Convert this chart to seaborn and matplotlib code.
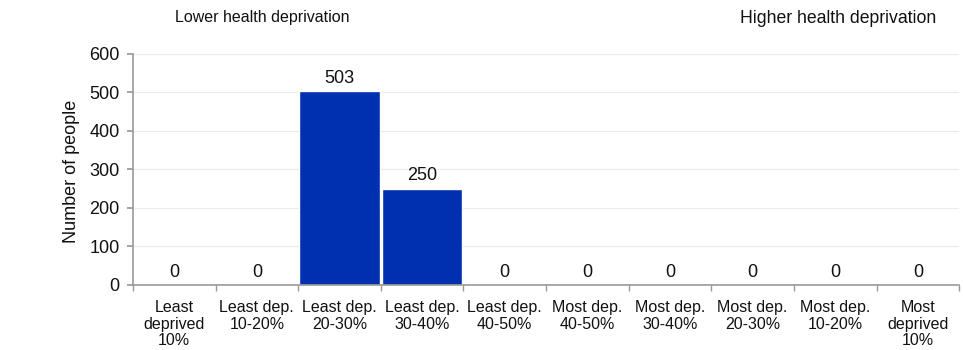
import matplotlib
matplotlib.use("Agg")
import numpy as np
import pandas as pd
import matplotlib.pyplot as plt
import seaborn as sns

categories = ["Least\ndeprived\n10%", "Least dep.\n10-20%", "Least dep.\n20-30%",
              "Least dep.\n30-40%", "Least dep.\n40-50%", "Most dep.\n40-50%",
              "Most dep.\n30-40%", "Most dep.\n20-30%", "Most dep.\n10-20%",
              "Most\ndeprived\n10%"]
people = [0, 0, 503, 250, 0, 0, 0, 0, 0, 0]
y_ticks = [0, 100, 200, 300, 400, 500, 600]

sns.set_theme(style="white")
plt.rcParams["font.family"] = ["Liberation Sans", "DejaVu Sans"]

df = pd.DataFrame({"category": categories, "people": people})

fig = plt.figure(figsize=(9.63, 3.5), dpi=100)
ax = fig.add_axes([0.138, 0.186, 0.858, 0.66])

sns.barplot(data=df, x="category", y="people", color="#0030b0", saturation=1,
            width=0.97, ax=ax)

for i, v in enumerate(people):
    ax.annotate(str(v), (i, v), xytext=(0, 3), textcoords="offset points",
                ha="center", va="bottom", fontsize=13, color="#111111")

ax.set_ylim(0, 600)
ax.set_xlim(-0.5, len(categories) - 0.5)
ax.set_yticks(y_ticks)
ax.set_yticklabels([str(t) for t in y_ticks], fontsize=13, color="#111111")
ax.yaxis.grid(True, color="#ebebeb", linewidth=0.8)
ax.set_axisbelow(True)

ax.set_xticks(np.arange(len(categories)))
ax.set_xticklabels(categories, fontsize=11.5, linespacing=1.12, color="#111111")
ax.set_xticks(np.arange(len(categories) + 1) - 0.5, minor=True)
ax.tick_params(axis="x", which="major", length=0, pad=11)
ax.tick_params(axis="x", which="minor", length=4, color="#999999", bottom=True)
ax.tick_params(axis="y", length=4.5, color="#999999", left=True, pad=5)

for side in ["top", "right"]:
    ax.spines[side].set_visible(False)
for side in ["left", "bottom"]:
    ax.spines[side].set_color("#999999")
    ax.spines[side].set_linewidth(1.2)

ax.set_xlabel("")
ax.set_ylabel("")
fig.text(71 / 963, 0.51, "Number of people", rotation=90, ha="center", va="center",
         fontsize=13, color="#111111")

fig.text(262 / 963, 0.949, "Lower health deprivation", ha="center", va="center",
         fontsize=11.5, color="#111111")
fig.text(838 / 963, 0.947, "Higher health deprivation", ha="center", va="center",
         fontsize=12.7, color="#111111")

fig.savefig("out.png", dpi=100)
